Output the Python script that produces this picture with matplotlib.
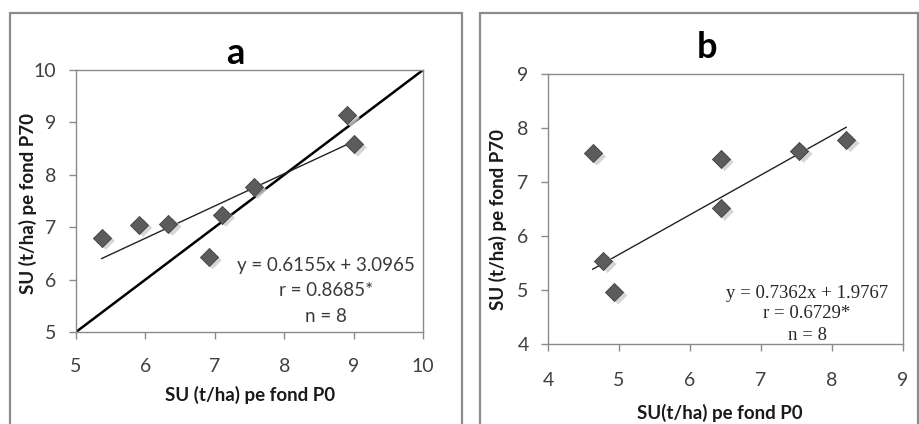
import matplotlib
matplotlib.use("Agg")
import matplotlib.pyplot as plt
from matplotlib.patches import Rectangle
import numpy as np

# Panel a data
a_x = [5.37, 5.91, 6.33, 6.91, 7.10, 7.56, 8.90, 9.00]
a_y = [6.80, 7.05, 7.07, 6.43, 7.24, 7.77, 9.14, 8.58]
a_slope, a_icpt = 0.6155, 3.0965
a_text = ["y = 0.6155x + 3.0965", "r = 0.8685*", "n = 8"]
a_ticks = [5, 6, 7, 8, 9, 10]

# Panel b data
b_x = [4.63, 4.78, 4.93, 6.43, 6.43, 7.54, 8.20]
b_y = [7.53, 5.54, 4.96, 7.43, 6.51, 7.58, 7.78]
b_slope, b_icpt = 0.7362, 1.9767
b_text = ["y = 0.7362x + 1.9767", "r = 0.6729*", "n = 8"]
b_xticks = [4, 5, 6, 7, 8, 9]
b_yticks = [4, 5, 6, 7, 8, 9]

FONT = ["Lato", "DejaVu Sans"]
plt.rcParams['font.family'] = FONT

W, H = 919, 424
fig = plt.figure(figsize=(W / 100, H / 100), dpi=100)

def fx(px):
    return px / W

def fy(py):
    return 1 - py / H

# outer frames
fig.patches.append(Rectangle((fx(10), fy(440)), fx(452), fy(13) - fy(440),
                             transform=fig.transFigure, fill=False,
                             edgecolor="#8c8c8c", lw=1.6))
fig.patches.append(Rectangle((fx(480), fy(440)), fx(438), fy(13) - fy(440),
                             transform=fig.transFigure, fill=False,
                             edgecolor="#8c8c8c", lw=1.6))

def style(ax, xpad):
    for s in ax.spines.values():
        s.set_color("#8a8a8a")
        s.set_linewidth(1.0)
    ax.tick_params(direction="out", length=5, color="#8a8a8a", width=1,
                   labelsize=14, labelcolor="#404040", pad=9)
    ax.tick_params(axis="x", pad=xpad)

def markers(ax, xs, ys):
    ax.scatter(np.array(xs) + 0.06, np.array(ys) - 0.06, marker="D", s=85,
               color="#cccccc", edgecolor="none", zorder=3, alpha=0.8)
    ax.scatter(xs, ys, marker="D", s=85, color="#5c5c5c",
               edgecolor="#3f3f3f", linewidth=0.6, zorder=4)

# Panel a
ax1 = fig.add_axes([fx(76), fy(332), fx(423) - fx(76), fy(70) - fy(332)])
style(ax1, 14)
ax1.set_xlim(5, 10)
ax1.set_ylim(5, 10)
ax1.set_xticks(a_ticks)
ax1.set_yticks(a_ticks)
ax1.plot([5, 10], [5, 10], color="black", lw=1.8, zorder=2)
xa = np.array([min(a_x), max(a_x)])
ax1.plot(xa, a_slope * xa + a_icpt, color="#222222", lw=1.0, zorder=2)
markers(ax1, a_x, a_y)
for i, t in enumerate(a_text):
    fig.text(fx(326), fy(266 + 25 * i), t, ha="center", va="center",
             fontsize=13.5, color="#3a3a3a")
fig.text(fx(235), fy(53), "a", ha="center", va="center", fontsize=26,
         fontweight="bold", color="black")
fig.text(fx(250), fy(395), "SU (t/ha) pe fond P0", ha="center", va="center",
         fontsize=13.5, fontweight="bold", color="#1a1a1a")
fig.text(fx(28), fy(203), "SU (t/ha) pe fond P70", ha="center", va="center",
         fontsize=13.5, fontweight="bold", color="#1a1a1a", rotation=90)

# Panel b
ax2 = fig.add_axes([fx(548), fy(344), fx(903) - fx(548), fy(74) - fy(344)])
style(ax2, 15)
ax2.set_xlim(4, 9)
ax2.set_ylim(4, 9)
ax2.set_xticks(b_xticks)
ax2.set_yticks(b_yticks)
xb = np.array([min(b_x), max(b_x)])
ax2.plot(xb, b_slope * xb + b_icpt, color="#222222", lw=1.0, zorder=2)
markers(ax2, b_x, b_y)
for i, t in enumerate(b_text):
    fig.text(fx(807), fy(293 + 21 * i), t, ha="center", va="center",
             fontsize=13.5, color="#262626",
             family=["Liberation Serif", "DejaVu Serif"])
fig.text(fx(707), fy(47), "b", ha="center", va="center", fontsize=26,
         fontweight="bold", color="black")
fig.text(fx(720), fy(413), "SU(t/ha) pe fond P0", ha="center", va="center",
         fontsize=13.5, fontweight="bold", color="#1a1a1a")
fig.text(fx(498), fy(220), "SU (t/ha) pe fond P70", ha="center", va="center",
         fontsize=13.5, fontweight="bold", color="#1a1a1a", rotation=90)

fig.savefig("out.png", dpi=100)
